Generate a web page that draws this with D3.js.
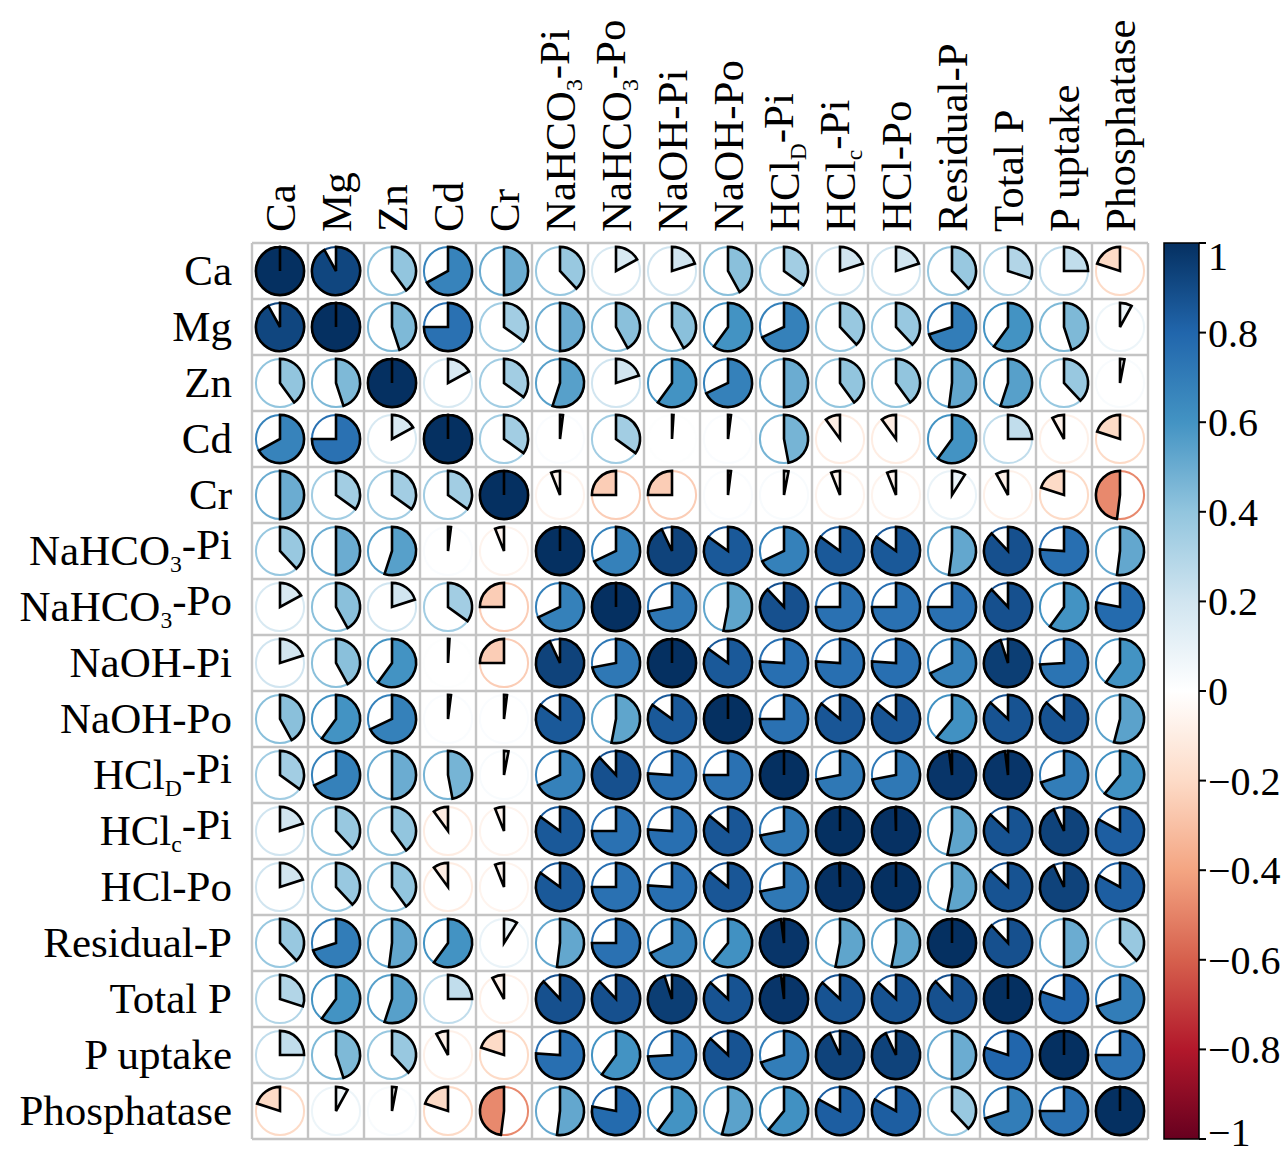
<!DOCTYPE html>
<html>
<head>
<meta charset="utf-8">
<script src="https://cdn.jsdelivr.net/npm/d3@7"></script>
<style>
  html, body { margin: 0; padding: 0; background: #fff; }
  text { font-family: "Liberation Serif", "Times New Roman", serif; fill: #000; }
</style>
</head>
<body>
<svg id="chart" width="1285" height="1157"></svg>
<script>
// ---- Data ----
const varNames = ["Ca","Mg","Zn","Cd","Cr","NaHCO3-Pi","NaHCO3-Po","NaOH-Pi","NaOH-Po","HClD-Pi","HClc-Pi","HCl-Po","Residual-P","Total P","P uptake","Phosphatase"];
// label parts: [main, subscript, rest]
const labelParts = [
  ["Ca"],["Mg"],["Zn"],["Cd"],["Cr"],
  ["NaHCO","3","-Pi"],["NaHCO","3","-Po"],["NaOH-Pi"],["NaOH-Po"],
  ["HCl","D","-Pi"],["HCl","c","-Pi"],["HCl-Po"],["Residual-P"],["Total P"],["P uptake"],["Phosphatase"]
];
const rowCa          = [1.00, 0.92, 0.40, 0.67, 0.50, 0.38, 0.17, 0.20, 0.42, 0.35, 0.20, 0.20, 0.38, 0.30, 0.25, -0.20];
const rowMg          = [0.92, 1.00, 0.45, 0.75, 0.35, 0.50, 0.42, 0.42, 0.60, 0.68, 0.38, 0.38, 0.70, 0.60, 0.45, 0.08];
const rowZn          = [0.40, 0.45, 1.00, 0.17, 0.35, 0.55, 0.20, 0.60, 0.68, 0.50, 0.40, 0.40, 0.52, 0.55, 0.38, 0.03];
const rowCd          = [0.67, 0.75, 0.17, 1.00, 0.35, 0.02, 0.35, 0.01, 0.02, 0.47, -0.10, -0.10, 0.60, 0.25, -0.08, -0.20];
const rowCr          = [0.50, 0.35, 0.35, 0.35, 1.00, -0.06, -0.25, -0.25, 0.02, 0.03, -0.06, -0.06, 0.09, -0.08, -0.20, -0.48];
const rowNaHCO3Pi    = [0.38, 0.50, 0.55, 0.02, -0.06, 1.00, 0.68, 0.93, 0.85, 0.68, 0.85, 0.85, 0.52, 0.88, 0.76, 0.52];
const rowNaHCO3Po    = [0.17, 0.42, 0.20, 0.35, -0.25, 0.68, 1.00, 0.72, 0.53, 0.88, 0.75, 0.75, 0.75, 0.88, 0.60, 0.78];
const rowNaOHPi      = [0.20, 0.42, 0.60, 0.01, -0.25, 0.93, 0.72, 1.00, 0.85, 0.76, 0.76, 0.76, 0.68, 0.95, 0.74, 0.60];
const rowNaOHPo      = [0.42, 0.60, 0.68, 0.02, 0.02, 0.85, 0.53, 0.85, 1.00, 0.75, 0.86, 0.86, 0.61, 0.87, 0.87, 0.54];
const rowHClDPi      = [0.35, 0.68, 0.50, 0.47, 0.03, 0.68, 0.88, 0.76, 0.75, 1.00, 0.72, 0.72, 0.98, 0.98, 0.70, 0.61];
const rowHClcPi      = [0.20, 0.38, 0.40, -0.10, -0.06, 0.85, 0.75, 0.76, 0.86, 0.72, 1.00, 0.995, 0.53, 0.87, 0.93, 0.83];
const rowHClPo       = [0.20, 0.38, 0.40, -0.10, -0.06, 0.85, 0.75, 0.76, 0.86, 0.72, 0.995, 1.00, 0.53, 0.87, 0.93, 0.83];
const rowResidualP   = [0.38, 0.70, 0.52, 0.60, 0.09, 0.52, 0.75, 0.68, 0.61, 0.98, 0.53, 0.53, 1.00, 0.88, 0.50, 0.38];
const rowTotalP      = [0.30, 0.60, 0.55, 0.25, -0.08, 0.88, 0.88, 0.95, 0.87, 0.98, 0.87, 0.87, 0.88, 1.00, 0.80, 0.70];
const rowPuptake     = [0.25, 0.45, 0.38, -0.08, -0.20, 0.76, 0.60, 0.74, 0.87, 0.70, 0.93, 0.93, 0.50, 0.80, 1.00, 0.75];
const rowPhosphatase = [-0.20, 0.08, 0.03, -0.20, -0.48, 0.52, 0.78, 0.60, 0.54, 0.61, 0.83, 0.83, 0.38, 0.70, 0.75, 1.00];
const corrRows = [rowCa,rowMg,rowZn,rowCd,rowCr,rowNaHCO3Pi,rowNaHCO3Po,rowNaOHPi,rowNaOHPo,rowHClDPi,rowHClcPi,rowHClPo,rowResidualP,rowTotalP,rowPuptake,rowPhosphatase];
const legendTicks = [1, 0.8, 0.6, 0.4, 0.2, 0, -0.2, -0.4, -0.6, -0.8, -1];
const tickLabels = ["1","0.8","0.6","0.4","0.2","0","\u22120.2","\u22120.4","\u22120.6","\u22120.8","\u22121"];
const paletteColors = ["#67001F","#B2182B","#D6604D","#F4A582","#FDDBC7","#FFFFFF","#D1E5F0","#92C5DE","#4393C3","#2166AC","#053061"];

// ---- Layout ----
const svg = d3.select("#chart");
const gridLeft = 252, gridTop = 243, gridSize = 896;
const n = varNames.length;
const x = d3.scaleBand().domain(varNames).range([gridLeft, gridLeft + gridSize]);
const y = d3.scaleBand().domain(varNames).range([gridTop, gridTop + gridSize]);
const color = d3.scaleLinear()
  .domain(paletteColors.map((c, i) => -1 + i * 0.2))
  .range(paletteColors)
  .interpolate(d3.interpolateRgb);
const cell = x.bandwidth();
const R = cell * 0.43;

const cells = [];
corrRows.forEach((row, i) => row.forEach((v, j) => cells.push({ r: varNames[i], c: varNames[j], v })));

// grid
const gridG = svg.append("g");
d3.range(n + 1).forEach(k => {
  const p = gridLeft + k * cell;
  gridG.append("line").attr("x1", p).attr("x2", p).attr("y1", gridTop).attr("y2", gridTop + gridSize)
    .attr("stroke", "#c4c4c4").attr("stroke-width", 2.4);
  const q = gridTop + k * cell;
  gridG.append("line").attr("y1", q).attr("y2", q).attr("x1", gridLeft).attr("x2", gridLeft + gridSize)
    .attr("stroke", "#c4c4c4").attr("stroke-width", 2.4);
});

// circles + pies
const cg = svg.append("g");
cg.selectAll("circle.bg").data(cells).join("circle")
  .attr("class", "bg")
  .attr("cx", d => x(d.c) + cell / 2)
  .attr("cy", d => y(d.r) + cell / 2)
  .attr("r", R)
  .attr("fill", "#fff")
  .attr("stroke", d => color(d.v))
  .attr("stroke-width", 2);

function piePath(d) {
  const cx = x(d.c) + cell / 2, cy = y(d.r) + cell / 2;
  const p = d3.path();
  const a0 = -Math.PI / 2;
  const a1 = a0 + 2 * Math.PI * d.v;
  p.moveTo(cx, cy);
  p.lineTo(cx, cy - R);
  p.arc(cx, cy, R, a0, a1, d.v < 0);
  p.closePath();
  return p.toString();
}
cg.selectAll("path.pie").data(cells).join("path")
  .attr("class", "pie")
  .attr("d", piePath)
  .attr("fill", d => color(d.v))
  .attr("stroke", "#000")
  .attr("stroke-width", 2.6)
  .attr("stroke-linejoin", "miter");

// labels
const fontSize = 43;
function addLabel(sel, parts) {
  sel.append("tspan").text(parts[0]);
  if (parts.length > 1) {
    sel.append("tspan").attr("dy", "0.3em").attr("font-size", fontSize * 0.55).text(parts[1]);
    sel.append("tspan").attr("dy", "-0.3em").text(parts[2]);
  }
}
varNames.forEach((name, i) => {
  const t = svg.append("text")
    .attr("x", gridLeft - 20)
    .attr("y", y(name) + cell / 2)
    .attr("dy", "0.33em")
    .attr("text-anchor", "end")
    .attr("font-size", fontSize);
  addLabel(t, labelParts[i]);
  const tc = svg.append("text")
    .attr("transform", `translate(${x(name) + cell / 2},${gridTop - 11}) rotate(-90)`)
    .attr("dy", "0.35em")
    .attr("text-anchor", "start")
    .attr("font-size", fontSize);
  addLabel(tc, labelParts[i]);
});

// color legend
const legX = 1164, legW = 35;
const ly = d3.scaleLinear().domain([1, -1]).range([gridTop, gridTop + gridSize]);
const defs = svg.append("defs");
const grad = defs.append("linearGradient").attr("id", "cbar")
  .attr("x1", 0).attr("x2", 0).attr("y1", 0).attr("y2", 1);
paletteColors.slice().reverse().forEach((c, i) => {
  grad.append("stop").attr("offset", (i / (paletteColors.length - 1))).attr("stop-color", c);
});
svg.append("rect").attr("x", legX).attr("y", ly(1)).attr("width", legW).attr("height", ly(-1) - ly(1))
  .attr("fill", "url(#cbar)").attr("stroke", "#000").attr("stroke-width", 1.5);
const lg = svg.append("g");
legendTicks.forEach((v, i) => {
  const yy = ly(v);
  lg.append("line").attr("x1", legX + legW).attr("x2", legX + legW + 7).attr("y1", yy).attr("y2", yy)
    .attr("stroke", "#000").attr("stroke-width", 2);
  const off = i === 0 ? 13 : (i === legendTicks.length - 1 ? -7 : 0);
  lg.append("text").attr("x", legX + legW + 9).attr("y", yy + off).attr("dy", "0.35em")
    .attr("font-size", 40).text(tickLabels[i]);
});
</script>
</body>
</html>
